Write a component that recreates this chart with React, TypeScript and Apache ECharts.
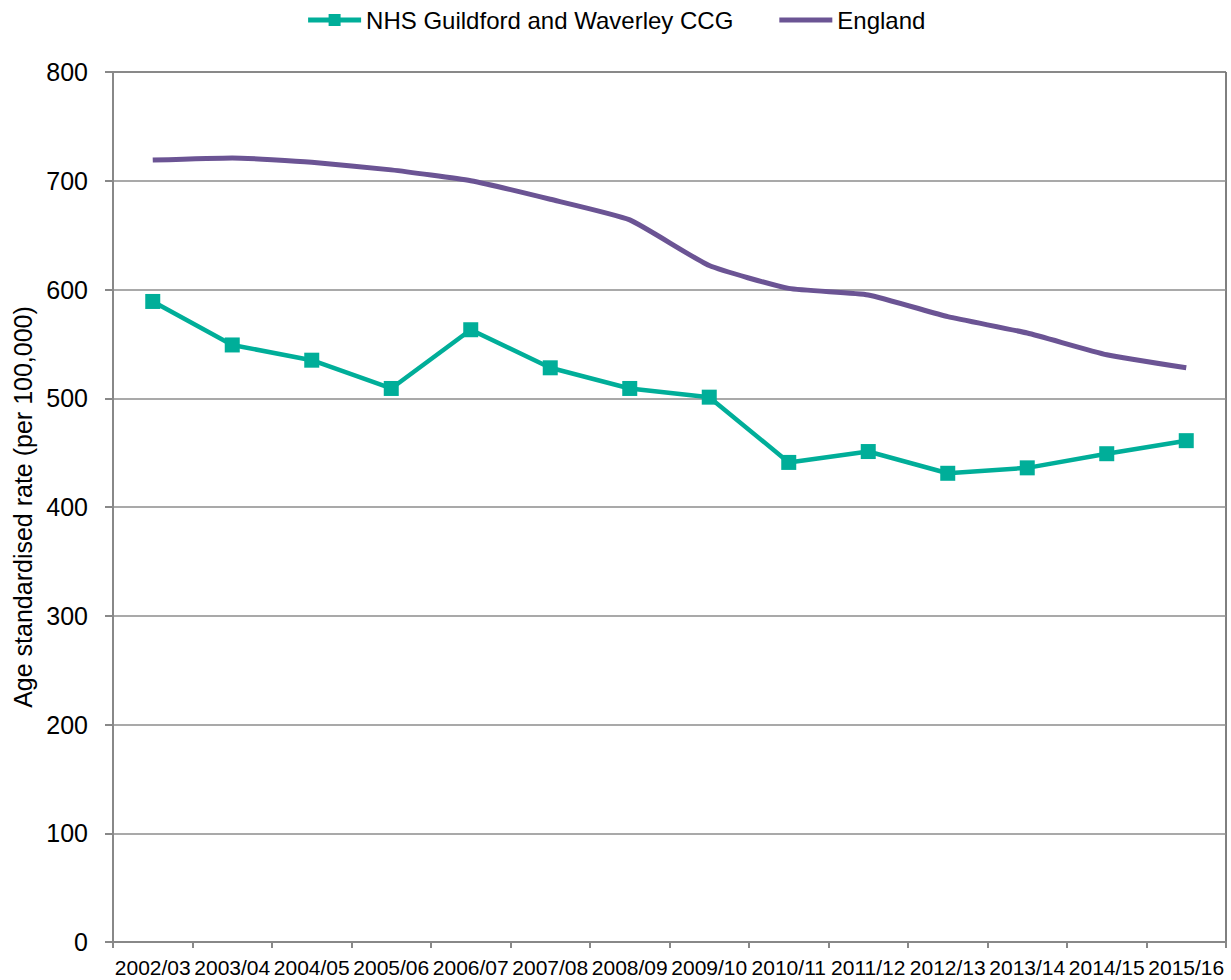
import React, { useEffect, useRef } from "react";
import * as echarts from "echarts";

const categories = [
  "2002/03", "2003/04", "2004/05", "2005/06", "2006/07", "2007/08", "2008/09",
  "2009/10", "2010/11", "2011/12", "2012/13", "2013/14", "2014/15", "2015/16",
];
const ccgValues = [589, 549, 535, 509, 563, 528, 509, 501, 441, 451, 431, 436, 449, 461];
const englandValues = [719, 721, 717, 710, 700, 683, 664, 622, 601, 595, 575, 560, 540, 528];
const ccgName = "NHS Guildford and Waverley CCG";
const englandName = "England";
const yAxisName = "Age standardised rate (per 100,000)";

const FONT = "Liberation Sans, Arial, sans-serif";
const GREEN = "#00AE99";
const PURPLE = "#6B5494";

export default function App() {
  const ref = useRef<HTMLDivElement>(null);
  useEffect(() => {
    document.body.style.margin = "0";
    const chart = echarts.init(ref.current!, null, { renderer: "svg" });
    chart.setOption({
      animation: false,
      textStyle: { fontFamily: FONT },
      legend: {
        top: 3,
        left: "center",
        itemWidth: 53,
        itemHeight: 15,
        itemGap: 46,
        textStyle: { fontSize: 24, color: "#000", fontFamily: FONT },
        data: [
          { name: ccgName, lineStyle: { width: 5 } },
          { name: englandName, icon: "path://M0,0H53V5H0Z" },
        ],
      },
      grid: {
        left: 113,
        right: 5,
        top: 72,
        bottom: 38,
        show: true,
        borderColor: "#000",
        borderWidth: 1,
        backgroundColor: "transparent",
      },
      xAxis: {
        type: "category",
        data: categories,
        boundaryGap: true,
        axisLine: { lineStyle: { color: "#888", width: 2 } },
        axisTick: { show: true, alignWithLabel: false, length: 6, lineStyle: { color: "#888", width: 2 } },
        axisLabel: { interval: 0, fontSize: 21, color: "#000", margin: 15, fontFamily: FONT },
      },
      yAxis: {
        type: "value",
        min: 0,
        max: 800,
        interval: 100,
        name: yAxisName,
        nameLocation: "middle",
        nameGap: 78,
        nameTextStyle: { fontSize: 25, color: "#000", fontFamily: FONT },
        axisLine: { show: true, lineStyle: { color: "#888", width: 2 } },
        axisTick: { show: true, length: 8, lineStyle: { color: "#888", width: 2 } },
        axisLabel: { fontSize: 25, color: "#000", margin: 25, fontFamily: FONT },
        splitLine: { show: true, lineStyle: { color: "#8c8c8c", width: 1.5 } },
      },
      series: [
        {
          name: ccgName,
          type: "line",
          data: ccgValues,
          symbol: "rect",
          symbolSize: 15,
          lineStyle: { color: GREEN, width: 4.5 },
          itemStyle: { color: GREEN },
          z: 3,
        },
        {
          name: englandName,
          type: "line",
          data: englandValues,
          symbol: "none",
          smooth: 0.15,
          lineStyle: { color: PURPLE, width: 5 },
          itemStyle: { color: PURPLE },
          z: 2,
        },
      ],
    });
    return () => chart.dispose();
  }, []);
  return <div ref={ref} style={{ width: 1231, height: 980 }} />;
}
